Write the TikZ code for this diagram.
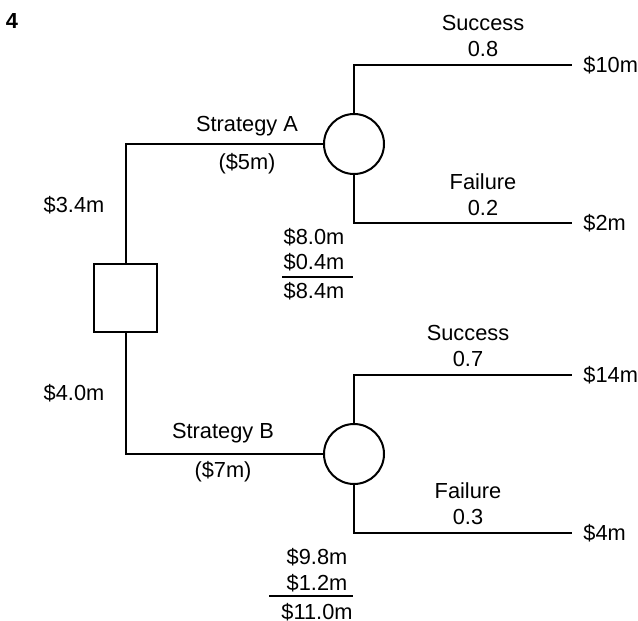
\documentclass[tikz,border=0pt]{standalone}
\usepackage{fontspec}
\setmainfont{Liberation Sans}
\usetikzlibrary{positioning}

\tikzset{
  decision/.style={draw, line width=1pt, minimum width=31.5pt, minimum height=34pt, inner sep=0pt},
  chance/.style={draw, circle, line width=1pt, minimum size=30pt, inner sep=0pt},
  branch/.style={line width=1pt},
  lbl/.style={font=\fontsize{10.9}{13}\selectfont, inner sep=0pt},
  payoff/.style={lbl, anchor=west, inner xsep=5.5pt},
}

\begin{document}
\begin{tikzpicture}[x=0.5pt, y=-0.5pt]
      \useasboundingbox (0,0) rectangle (638,621);
      % Define nodes
      \node[lbl, font=\fontsize{10.9}{13}\selectfont\bfseries] (num) at (12,21) {4};
      \node[decision] (dec) at (125.5,298) {};
      \node[chance]   (chA) at (354,144) {};
      \node[chance]   (chB) at (354,454) {};
      \coordinate (topL) at (125.5,144);
      \coordinate (botL) at (125.5,454);
      \node[payoff] (vA1) at (572,65)  {\$10m};
      \node[payoff] (vA2) at (572,223) {\$2m};
      \node[payoff] (vB1) at (572,375) {\$14m};
      \node[payoff] (vB2) at (572,533) {\$4m};
      % Connect nodes
      \draw[branch] (dec.north) -- (topL) -- (chA.west);
      \draw[branch] (dec.south) -- (botL) -- (chB.west);
      \draw[branch] (chA.north) |- (vA1.west);
      \draw[branch] (chA.south) |- (vA2.west);
      \draw[branch] (chB.north) |- (vB1.west);
      \draw[branch] (chB.south) |- (vB2.west);
      % Branch labels
      \node[lbl] (stA)  at (247,126) {Strategy A};
      \node[lbl] (cA)   at (247,164) {(\$5m)};
      \node[lbl] (stB)  at (223,433) {Strategy B};
      \node[lbl] (cB)   at (223,472) {(\$7m)};
      \node[lbl] (evA)  at (74,205)  {\$3.4m};
      \node[lbl] (evB)  at (74,393)  {\$4.0m};
      \node[lbl, align=center] (pA1) at (483,36)    {Success\\0.8};
      \node[lbl, align=center] (pA2) at (483,195)   {Failure\\0.2};
      \node[lbl, align=center] (pB1) at (468,345.5) {Success\\0.7};
      \node[lbl, align=center] (pB2) at (468,503.5) {Failure\\0.3};
      % Expected values
      \node[lbl] (sA1) at (314,237) {\$8.0m};
      \node[lbl] (sA2) at (314,262) {\$0.4m};
      \node[lbl] (sA3) at (314,291) {\$8.4m};
      \draw[branch] (282,277) -- (353,277);
      \node[lbl] (sB1) at (317,557) {\$9.8m};
      \node[lbl] (sB2) at (317,583) {\$1.2m};
      \node[lbl] (sB3) at (317,612) {\$11.0m};
      \draw[branch] (269,596) -- (353,596);
    \end{tikzpicture}
\end{document}
